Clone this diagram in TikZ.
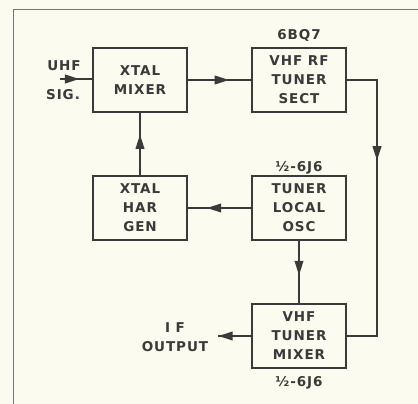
\documentclass[tikz,border=0pt]{standalone}
\usepackage{fontspec}
\usetikzlibrary{decorations.markings}
\newfontfamily\lab{DejaVu Sans}[LetterSpace=7]
\definecolor{paper}{HTML}{FBFBEF}
\definecolor{ink}{HTML}{3A3A3A}
\tikzset{
  blk/.style={draw=ink, line width=1.4pt, minimum width=94pt, minimum height=64pt, inner sep=0pt,
    align=center, font=\lab\bfseries\fontsize{13.5}{19}\selectfont, text=ink},
  lbl/.style={font=\lab\bfseries\fontsize{13.5}{19}\selectfont, text=ink, align=center, inner sep=0pt},
  wire/.style={draw=ink, line width=1.4pt},
  midarr/.style={postaction={decorate}, decoration={markings,
    mark=at position #1 with {\fill[ink] (6pt,0pt) -- (-8pt,4.6pt) -- (-8pt,-4.6pt) -- cycle;}}}
}
\begin{document}
\begin{tikzpicture}[x=1pt,y=-1pt]
\fill[paper] (0,0) rectangle (418,404);
\useasboundingbox (0,0) rectangle (418,404);
% frame
\draw[draw=ink!70, line width=1pt] (13,404) -- (13,10) -- (418,10);
% blocks
\node[blk] (xm) at (140,80) {XTAL\\MIXER};
\node[blk] (rf) at (299,80) {VHF RF\\TUNER\\SECT};
\node[blk] (hg) at (140,208) {XTAL\\HAR\\GEN};
\node[blk] (lo) at (299,208) {TUNER\\LOCAL\\OSC};
\node[blk] (tm) at (299,336) {VHF\\TUNER\\MIXER};
% labels
\node[lbl] (tq) at (299,35) {6BQ7};
\node[lbl] (h1) at (299,168) {½-6J6};
\node[lbl] (h2) at (299,383) {½-6J6};
\node[lbl] (uhf) at (64,66) {UHF};
\node[lbl] (sig) at (63,95) {SIG.};
\node[lbl] (ifo) at (175,337) {I F\\OUTPUT};
\coordinate (in) at (60,79);
\coordinate (ifend) at (218,336);
\coordinate (c1) at (377,80);
\coordinate (c2) at (377,336);
% connectors
\draw[wire, midarr=0.4] (in) -- (xm.west |- in);
\draw[wire, midarr=0.55] (xm.east) -- (rf.west);
\draw[wire, midarr=0.55] (hg.north) -- (xm.south);
\draw[wire, midarr=0.6] (lo.west) -- (hg.east);
\draw[wire, midarr=0.45] (lo.south -| tm.north) -- (tm.north);
\draw[wire, midarr=0.8] (tm.west |- ifend) -- (ifend);
\draw[wire, midarr=0.33] (rf.east) -- (c1) -- (c2) -- (tm.east |- c2);
\end{tikzpicture}
\end{document}
